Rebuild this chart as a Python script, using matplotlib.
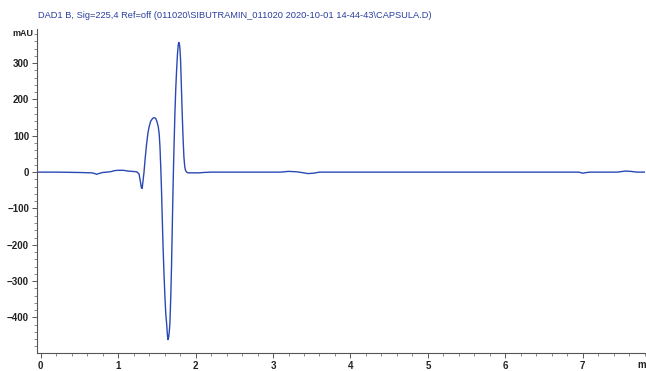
import matplotlib.pyplot as plt
from matplotlib.ticker import MultipleLocator

# retention time (min) and detector signal (mAU), DAD1 B 225,4 nm
time_min = [
    -0.05, 0.20, 0.50, 0.66, 0.70, 0.72, 0.75, 0.80, 0.90, 0.95, 1.00,
    1.07, 1.12, 1.18, 1.24, 1.27, 1.29, 1.30, 1.31, 1.333, 1.35, 1.368,
    1.385, 1.40, 1.42, 1.445, 1.465, 1.484, 1.50, 1.518, 1.53, 1.54,
    1.55, 1.56, 1.57, 1.58, 1.592, 1.604, 1.615, 1.626, 1.636, 1.643,
    1.652, 1.660, 1.668, 1.68, 1.69, 1.70, 1.711, 1.722, 1.733, 1.744,
    1.755, 1.766, 1.776, 1.783, 1.79, 1.798, 1.806, 1.816, 1.827, 1.838,
    1.849, 1.86, 1.871, 1.89, 1.905, 1.95, 2.05, 2.10, 2.20, 2.60,
    3.10, 3.20, 3.30, 3.40, 3.45, 3.52, 3.60, 4.00, 5.00, 6.00, 6.95,
    7.00, 7.05, 7.10, 7.45, 7.55, 7.62, 7.70, 7.85,
]
signal_mau = [
    0, 0, -1, -2, -4, -6, -4, -1, 1, 4, 5,
    5, 3, 2, 1, -5, -30, -43, -45, -2, 40, 79,
    108, 125, 140, 148, 150, 148, 140, 125, 105, 70,
    15, -50, -130, -206, -280, -343, -390, -417, -448, -461,
    -455, -440, -417, -340, -252, -140, -22, 75, 162, 230,
    281, 325, 350, 357, 355, 340, 309, 240, 162, 95,
    42, 15, 4, -1, -2, -2, -2, -1, 0, 0,
    0, 2, 1, -2, -4, -3, 0, 0, 0, 0, 0,
    -3, -1, 0, 0, 3, 2, 0, 0,
]

x_ticks = [0, 1, 2, 3, 4, 5, 6, 7]
y_ticks = [-400, -300, -200, -100, 0, 100, 200, 300]

title = ("DAD1 B, Sig=225,4 Ref=off (011020\\SIBUTRAMIN_011020 "
         "2020-10-01 14-44-43\\CAPSULA.D)")

plt.rcParams["font.family"] = ["Liberation Sans", "DejaVu Sans"]

fig = plt.figure(figsize=(6.46, 3.71), dpi=100)
ax = fig.add_axes([0.0568, 0.0485, 0.9412, 0.8733])

ax.plot(time_min, signal_mau, color="#2a49b3", linewidth=1.0)

ax.set_xlim(-0.052, 7.80)
ax.set_ylim(-498, 394)

ax.set_xticks(x_ticks)
ax.set_yticks(y_ticks)
ax.xaxis.set_minor_locator(MultipleLocator(0.2))
ax.yaxis.set_minor_locator(MultipleLocator(20))
ax.tick_params(axis="both", which="major", length=3.5, width=0.7,
               color="#555555", labelsize=7, pad=2)
ax.tick_params(axis="both", which="minor", length=2.5, width=0.6,
               color="#777777")
for lab in ax.get_xticklabels() + ax.get_yticklabels():
    lab.set_fontweight("bold")
    lab.set_color("#222222")

for side in ("top", "right"):
    ax.spines[side].set_visible(False)
for side in ("left", "bottom"):
    ax.spines[side].set_color("#555555")
    ax.spines[side].set_linewidth(0.8)

fig.text(38 / 646, 1 - 15 / 371, title, color="#2a3f9f", fontsize=6.7,
         ha="left", va="center")
fig.text(12 / 646, 1 - 33 / 371, "mAU", color="#222222", fontsize=6.5,
         fontweight="bold", ha="left", va="center")
fig.text(637 / 646, 1 - 365 / 371, "m", color="#222222", fontsize=7,
         fontweight="bold", ha="left", va="center")

fig.savefig("out.png", dpi=100)
